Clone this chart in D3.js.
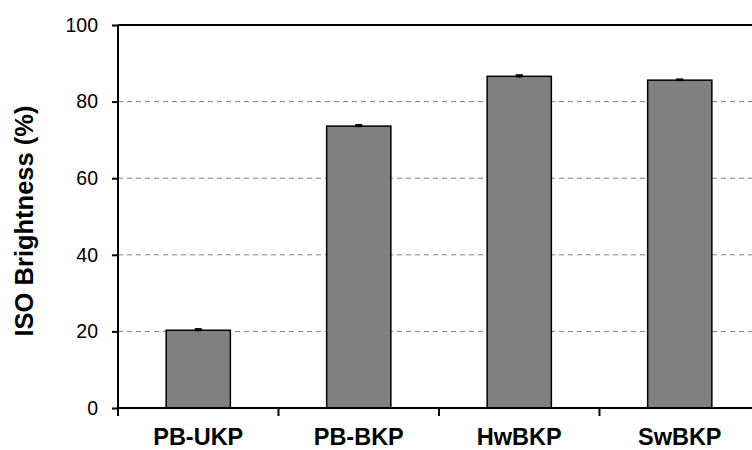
<!DOCTYPE html>
<html><head><meta charset="utf-8">
<script src="https://cdn.jsdelivr.net/npm/d3@7"></script>
<style>body{margin:0;background:#fff}svg{display:block}</style>
</head><body><svg id="c" width="752" height="450"></svg>
<script>
const categories = ["PB-UKP", "PB-BKP", "HwBKP", "SwBKP"];
const values = [20.3, 73.6, 86.6, 85.6];
const errors = [0.3, 0.3, 0.3, 0.2];
const yTicks = [0, 20, 40, 60, 80, 100];
const yTitle = "ISO Brightness (%)";

const svg = d3.select("#c");
const FONT = "Arial, 'Liberation Sans', sans-serif";
const m = {left: 118, top: 25, bottom: 408, right: 760};
const x = d3.scaleBand().domain(categories).range([m.left, m.right]).paddingInner(0.6).paddingOuter(0.3);
const y = d3.scaleLinear().domain([0, 100]).range([m.bottom, m.top]);

// gridlines
svg.append("g").selectAll("line").data(yTicks.filter(d => d > 0 && d < 100)).join("line")
  .attr("x1", m.left).attr("x2", m.right)
  .attr("y1", d => y(d)).attr("y2", d => y(d))
  .attr("stroke", "#808080").attr("stroke-width", 1).attr("stroke-dasharray", "5,4");

// top border
svg.append("line").attr("x1", m.left).attr("x2", m.right).attr("y1", y(100)).attr("y2", y(100))
  .attr("stroke", "#000").attr("stroke-width", 2);

// bars
svg.append("g").selectAll("rect").data(categories).join("rect")
  .attr("x", d => x(d)).attr("width", x.bandwidth())
  .attr("y", (d, i) => y(values[i])).attr("height", (d, i) => y(0) - y(values[i]))
  .attr("fill", "#808080").attr("stroke", "#000").attr("stroke-width", 1.5);

// error bars
const eb = svg.append("g");
categories.forEach((c, i) => {
  const cx = x(c) + x.bandwidth() / 2;
  eb.append("line").attr("x1", cx).attr("x2", cx)
    .attr("y1", y(values[i] + errors[i])).attr("y2", y(values[i] - errors[i]))
    .attr("stroke", "#000").attr("stroke-width", 1.5);
  [values[i] + errors[i], values[i]].forEach(v => {
    eb.append("line").attr("x1", cx - 3.5).attr("x2", cx + 3.5)
      .attr("y1", y(v)).attr("y2", y(v)).attr("stroke", "#000").attr("stroke-width", 2);
  });
});

// y axis
const yAxis = svg.append("g").attr("transform", `translate(${m.left},0)`)
  .call(d3.axisLeft(y).tickValues(yTicks).tickSize(6).tickPadding(14).tickFormat(d3.format("d")));
yAxis.select(".domain").attr("stroke", "#000").attr("stroke-width", 2).attr("d", `M0,${m.top}V${m.bottom}`);
yAxis.selectAll(".tick line").attr("stroke", "#000").attr("stroke-width", 2);
yAxis.selectAll(".tick text").attr("font-family", FONT)
  .attr("font-size", 19.5).attr("fill", "#000");

// x axis
const band = d3.scaleBand().domain(categories).range([m.left, m.right]);
const xAxis = svg.append("g").attr("transform", `translate(0,${m.bottom})`)
  .call(d3.axisBottom(band).tickSize(0).tickPadding(20));
xAxis.select(".domain").attr("stroke", "#000").attr("stroke-width", 2).attr("d", `M${m.left},0H${m.right}`);
xAxis.selectAll(".tick text").attr("font-family", FONT)
  .attr("font-size", 23.5).attr("font-weight", "bold").attr("fill", "#000");
// category separator ticks (including left edge)
svg.append("g").selectAll("line").data(categories).join("line")
  .attr("x1", d => band(d)).attr("x2", d => band(d))
  .attr("y1", m.bottom).attr("y2", m.bottom + 8)
  .attr("stroke", "#000").attr("stroke-width", 2);

// y title
svg.append("text").attr("transform", `translate(33,221) rotate(-90)`)
  .attr("text-anchor", "middle").attr("font-family", FONT)
  .attr("font-size", 25.5).attr("font-weight", "bold").text(yTitle);
</script></body></html>
